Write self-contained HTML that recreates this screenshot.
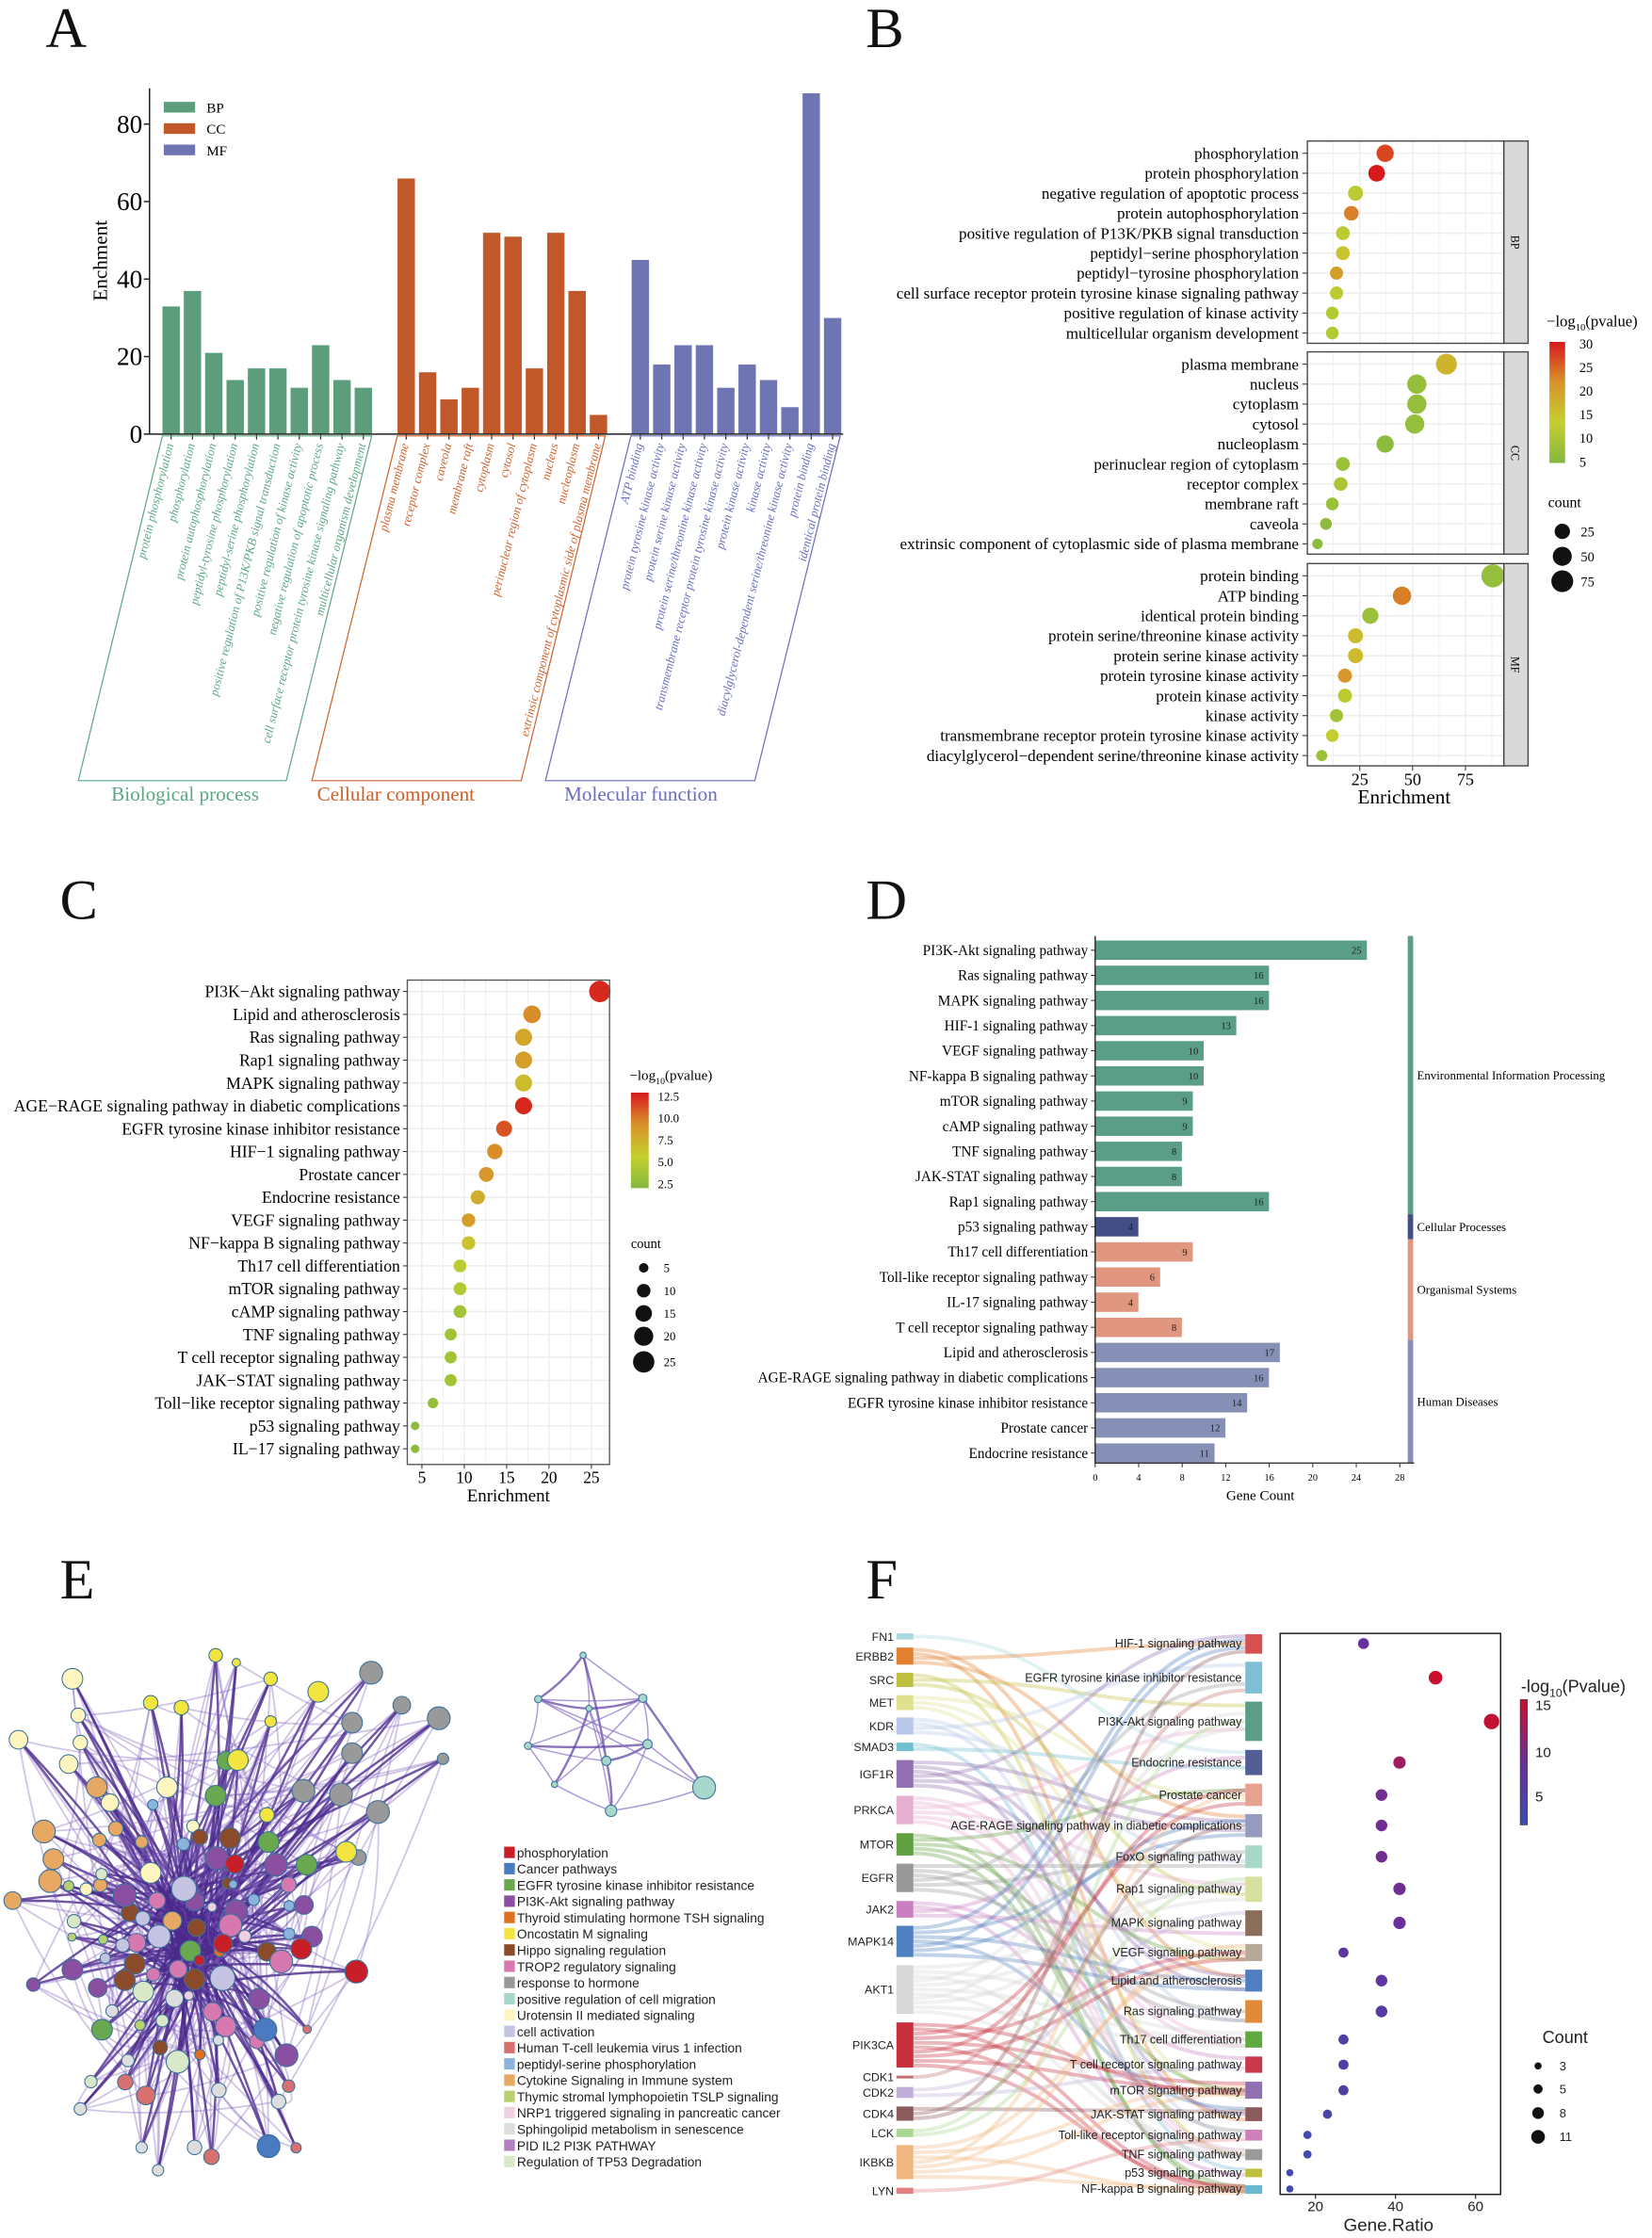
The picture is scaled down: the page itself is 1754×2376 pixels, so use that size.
<!DOCTYPE html>
<html><head><meta charset="utf-8"><style>
html,body{margin:0;padding:0;background:#fff;}
svg{display:block;}
</style></head><body>
<svg id="fig" xmlns="http://www.w3.org/2000/svg" width="1754" height="2376" viewBox="0 0 1160 1571" preserveAspectRatio="none">
<rect x="0" y="0" width="1160" height="1571" fill="#fff"/>
<g font-family="'Liberation Serif', serif" font-size="40" fill="#111">
<text x="32" y="33">A</text>
<text x="608" y="33">B</text>
<text x="42" y="645">C</text>
<text x="608" y="645">D</text>
<text x="42" y="1122">E</text>
<text x="608" y="1122">F</text>
</g>
</svg>
<script>
// ---------- Panel A data ----------
const aBPLabels=["protein phosphorylation","phosphorylation","protein autophosphorylation","peptidyl-tyrosine phosphorylation","peptidyl-serine phosphorylation","positive regulation of P13K/PKB signal transduction","positive regulation of kinase activity","negative regulation of apoptotic process","cell surface receptor protein tyrosine kinase signaling pathway","multicellular organism development"];
const aBPValues=[33,37,21,14,17,17,12,23,14,12];
const aCCLabels=["plasma membrane","receptor complex","caveola","membrane raft","cytoplasm","cytosol","perinuclear region of cytoplasm","nucleus","nucleoplasm","extrinsic component of cytoplasmic side of plasma membrane"];
const aCCValues=[66,16,9,12,52,51,17,52,37,5];
const aMFLabels=["ATP binding","protein tyrosine kinase activity","protein serine kinase activity","protein serine/threonine kinase activity","transmembrane receptor protein tyrosine kinase activity","protein kinase activity","kinase activity","diacylglycerol-dependent serine/threonine kinase activity","protein binding","identical protein binding"];
const aMFValues=[45,18,23,23,12,18,14,7,88,30];
const aYTicks=[0,20,40,60,80];
// ---------- Panel B data ----------
const bBPLabels=["phosphorylation","protein phosphorylation","negative regulation of apoptotic process","protein autophosphorylation","positive regulation of P13K/PKB signal transduction","peptidyl\u2212serine phosphorylation","peptidyl\u2212tyrosine phosphorylation","cell surface receptor protein tyrosine kinase signaling pathway","positive regulation of kinase activity","multicellular organism development"];
const bBPEnrich=[37,33,23,21,17,17,14,14,12,12];
const bBPLogP=[27,30,12,23,12,15,20,12,11,11];
const bCCLabels=["plasma membrane","nucleus","cytoplasm","cytosol","nucleoplasm","perinuclear region of cytoplasm","receptor complex","membrane raft","caveola","extrinsic component of cytoplasmic side of plasma membrane"];
const bCCEnrich=[66,52,52,51,37,17,16,12,9,5];
const bCCLogP=[17,7,7,7,6,8,10,8,6,6];
const bMFLabels=["protein binding","ATP binding","identical protein binding","protein serine/threonine kinase activity","protein serine kinase activity","protein tyrosine kinase activity","protein kinase activity","kinase activity","transmembrane receptor protein tyrosine kinase activity","diacylglycerol\u2212dependent serine/threonine kinase activity"];
const bMFEnrich=[88,45,30,23,23,18,18,14,12,7];
const bMFLogP=[7,23,8,16,16,21,12,9,13,8];
const bXTicks=[25,50,75];
// ---------- Panel C data ----------
const cLabels=["PI3K\u2212Akt signaling pathway","Lipid and atherosclerosis","Ras signaling pathway","Rap1 signaling pathway","MAPK signaling pathway","AGE\u2212RAGE signaling pathway in diabetic complications","EGFR tyrosine kinase inhibitor resistance","HIF\u22121 signaling pathway","Prostate cancer","Endocrine resistance","VEGF signaling pathway","NF\u2212kappa B signaling pathway","Th17 cell differentiation","mTOR signaling pathway","cAMP signaling pathway","TNF signaling pathway","T cell receptor signaling pathway","JAK\u2212STAT signaling pathway","Toll\u2212like receptor signaling pathway","p53 signaling pathway","IL\u221217 signaling pathway"];
const cEnrich=[26,18,17,17,17,17,14.7,13.6,12.6,11.6,10.5,10.5,9.5,9.5,9.5,8.4,8.4,8.4,6.3,4.2,4.2];
const cCount=[25,17,16,16,16,16,14,13,12,11,10,10,9,9,9,8,8,8,6,4,4];
const cLogP=[13,9.5,8,8.5,6.5,13,11.5,9.5,9,7.5,8.5,6,4.5,4,3,3,3,3,2,1.5,1.5];
const cXTicks=[5,10,15,20,25];
// ---------- Panel D data ----------
const dLabels=["PI3K-Akt signaling pathway","Ras signaling pathway","MAPK signaling pathway","HIF-1 signaling pathway","VEGF signaling pathway","NF-kappa B signaling pathway","mTOR signaling pathway","cAMP signaling pathway","TNF signaling pathway","JAK-STAT signaling pathway","Rap1 signaling pathway","p53 signaling pathway","Th17 cell differentiation","Toll-like receptor signaling pathway","IL-17 signaling pathway","T cell receptor signaling pathway","Lipid and atherosclerosis","AGE-RAGE signaling pathway in diabetic complications","EGFR tyrosine kinase inhibitor resistance","Prostate cancer","Endocrine resistance"];
const dCounts=[25,16,16,13,10,10,9,9,8,8,16,4,9,6,4,8,17,16,14,12,11];
const dGroup=[0,0,0,0,0,0,0,0,0,0,0,1,2,2,2,2,3,3,3,3,3];
const dGroupNames=["Environmental Information Processing","Cellular Processes","Organismal Systems","Human Diseases"];
const dXTicks=[0,4,8,12,16,20,24,28];
// ---------- Panel F data ----------
const fPathways=["HIF-1 signaling pathway","EGFR tyrosine kinase inhibitor resistance","PI3K-Akt signaling pathway","Endocrine resistance","Prostate cancer","AGE-RAGE signaling pathway in diabetic complications","FoxO signaling pathway","Rap1 signaling pathway","MAPK signaling pathway","VEGF signaling pathway","Lipid and atherosclerosis","Ras signaling pathway","Th17 cell differentiation","T cell receptor signaling pathway","mTOR signaling pathway","JAK-STAT signaling pathway","Toll-like receptor signaling pathway","TNF signaling pathway","p53 signaling pathway","NF-kappa B signaling pathway"];
const fRatio=[32,50,64,41,36.5,36.5,36.5,41,41,27,36.5,36.5,27,27,27,23,18,18,13.6,13.6];
const fLogP=[8,15,14.5,12,9,9,9,9,8.5,7,7,6,5,5,5,4,3,3,3,3];
const fCount=[7,11,14,9,8,8,8,9,9,6,8,8,6,6,6,5,4,4,3,3];
const fGenes=["FN1","ERBB2","SRC","MET","KDR","SMAD3","IGF1R","PRKCA","MTOR","EGFR","JAK2","MAPK14","AKT1","PIK3CA","CDK1","CDK2","CDK4","LCK","IKBKB","LYN"];
const fXTicks=[20,40,60];

const NS='http://www.w3.org/2000/svg';
const svg=document.getElementById('fig');
function mk(parent,tag,attrs,text){const e=document.createElementNS(NS,tag);for(const k in attrs)e.setAttribute(k,attrs[k]);if(text!=null)e.textContent=text;parent.appendChild(e);return e;}
const SERIF="'Liberation Serif', serif", SANS="'Liberation Sans', sans-serif";

// ================= Panel A =================
(function(){
const g=mk(svg,'g',{'font-family':SERIF});


const yA=v=>304.7-v*2.72;
const groups=[{v:aBPValues,l:aBPLabels,c:'#5c9e7c',tc:'#5aa882',x0:113.9,n:'bp'},{v:aCCValues,l:aCCLabels,c:'#c0582a',tc:'#d0602a',x0:279,n:'cc'},{v:aMFValues,l:aMFLabels,c:'#6f74b2',tc:'#6a6ec0',x0:443.4,n:'mf'}];
groups.forEach(G=>{G.v.forEach((v,i)=>{
 const x=G.x0+i*15;
 const r=mk(g,'rect',{x:x,y:yA(v),width:12.5,height:yA(0)-yA(v),fill:G.c,stroke:'#fff','stroke-width':0.3});
 
 
 const t=mk(g,'line',{x1:x+6.25,x2:x+6.25,y1:304.7,y2:308.5,stroke:'#222','stroke-width':0.8});
 
 
 const lx=x+8, ly=312;
 const tx=mk(g,'text',{x:lx,y:ly,'text-anchor':'end','font-size':8.6,'font-style':'italic',fill:G.tc,transform:`rotate(-76 ${lx} ${ly})`},G.l[i]);
 
 
});});
const ax=mk(g,'path',{d:'M105,62 V304.7 H592',fill:'none',stroke:'#222','stroke-width':1});


aYTicks.forEach(v=>{
 const l=mk(g,'line',{x1:101,x2:105,y1:yA(v),y2:yA(v),stroke:'#222'});
 
 
 const t=mk(g,'text',{x:100,y:yA(v)+6,'text-anchor':'end','font-size':18},String(v));
 
 
});
const yt=mk(g,'text',{x:75,y:183,'text-anchor':'middle','font-size':14,transform:'rotate(-90 75 183)'},'Enchment');


const leg=[['BP','#5c9e7c'],['CC','#c0582a'],['MF','#6f74b2']];
leg.forEach((L,i)=>{
 const r=mk(g,'rect',{x:115,y:71.5+i*15,width:22,height:7.5,fill:L[1]});
 
 
 const t=mk(g,'text',{x:145,y:79+i*15,'font-size':10},L[0]);
 
 
});
const br=[{p:'114,306 261,306 201,548 55,548',c:'#5aa882',tx:130,t:'Biological process',n:'bp'},{p:'279,306 425,306 366,548 219,548',c:'#d0602a',tx:278,t:'Cellular component',n:'cc'},{p:'443,306 590,306 530,548 383,548',c:'#6a6ec0',tx:450,t:'Molecular function',n:'mf'}];
br.forEach(B=>{
 const p=mk(g,'polygon',{points:B.p,fill:'none',stroke:B.c,'stroke-width':0.8});
 
 
 const t=mk(g,'text',{x:B.tx,y:562,'text-anchor':'middle','font-size':14,fill:B.c},B.t);
 
 
});
})();

// color helpers
function lerp(a,b,t){return a+(b-a)*t;}
function hex(c){return [parseInt(c.substr(1,2),16),parseInt(c.substr(3,2),16),parseInt(c.substr(5,2),16)];}
function grad(stops,t){t=Math.max(0,Math.min(1,t));const n=stops.length-1;const i=Math.min(n-1,Math.floor(t*n));const f=t*n-i;const a=hex(stops[i]),b=hex(stops[i+1]);return `rgb(${Math.round(lerp(a[0],b[0],f))},${Math.round(lerp(a[1],b[1],f))},${Math.round(lerp(a[2],b[2],f))})`;}
const GYR=['#84b83f','#c5cf2e','#d9922a','#d7191c'];

// ================= Panel B =================
(function(){
const g=mk(svg,'g',{'font-family':SERIF});


const xB=v=>917.7+v*1.484;
const facets=[{l:bBPLabels,e:bBPEnrich,p:bBPLogP,top:99,n:'BP'},{l:bCCLabels,e:bCCEnrich,p:bCCLogP,top:247,n:'CC'},{l:bMFLabels,e:bMFEnrich,p:bMFLogP,top:395.6,n:'MF'}];
facets.forEach(F=>{
 const bg=mk(g,'rect',{x:918,y:F.top,width:138,height:142,fill:'#fff'});
 
 
 for(let v=12.5;v<93;v+=12.5){
  const l=mk(g,'line',{x1:xB(v),x2:xB(v),y1:F.top,y2:F.top+142,stroke:'#ececec','stroke-width':v%25===0?0.9:0.5});
  
  
 }
 F.l.forEach((lab,i)=>{
  const y=F.top+8.6+i*14.02;
  const gl=mk(g,'line',{x1:918,x2:1056,y1:y,y2:y,stroke:'#ececec','stroke-width':0.9});
  
  
  const t=mk(g,'text',{x:912,y:y+3.8,'text-anchor':'end','font-size':11.3},lab);
  
  
  const tk=mk(g,'line',{x1:914.5,x2:918,y1:y,y2:y,stroke:'#333','stroke-width':0.7});
  
  
 });
 F.e.forEach((v,i)=>{
  const y=F.top+8.6+i*14.02;
  const c=mk(g,'circle',{cx:xB(v),cy:y,r:2.3+Math.sqrt(v)*0.62,fill:grad(GYR,(F.p[i]-5)/25)});
  
  
 });
 const bd=mk(g,'rect',{x:918,y:F.top,width:138,height:142,fill:'none',stroke:'#444','stroke-width':0.9});
 
 
 const st=mk(g,'rect',{x:1056,y:F.top,width:17,height:142,fill:'#d9d9d9',stroke:'#444','stroke-width':0.9});
 
 
 const sx=1061, sy=F.top+71;
 const stt=mk(g,'text',{x:sx,y:sy,'text-anchor':'middle','font-size':8,transform:`rotate(90 ${sx} ${sy})`},F.n);
 
 
});
bXTicks.forEach(v=>{
 const l=mk(g,'line',{x1:xB(v),x2:xB(v),y1:537.6,y2:541,stroke:'#333','stroke-width':0.7});
 
 
 const t=mk(g,'text',{x:xB(v),y:551,'text-anchor':'middle','font-size':12},String(v));
 
 
});
const xt=mk(g,'text',{x:986,y:564,'text-anchor':'middle','font-size':14},'Enrichment');


const defs=mk(svg,'defs',{});
const lg=mk(defs,'linearGradient',{id:'gB',x1:0,y1:1,x2:0,y2:0});
GYR.forEach((c,i)=>mk(lg,'stop',{offset:i/3,'stop-color':c}));
const lt=mk(g,'text',{x:1086,y:229,'font-size':11},'\u2212log');


mk(lt,'tspan',{'font-size':7,dy:3},'10');
mk(lt,'tspan',{dy:-3},'(pvalue)');
const cb=mk(g,'rect',{x:1088,y:240,width:11,height:85,fill:'url(#gB)'});


[5,10,15,20,25,30].forEach(v=>{
 const y=324-(v-5)/25*83;
 const t=mk(g,'text',{x:1109,y:y+3.5,'font-size':9.5},String(v));
 
 
});
const ct=mk(g,'text',{x:1087,y:356,'font-size':10.5},'count');


[25,50,75].forEach((v,i)=>{
 const y=373+i*17.5;
 const c=mk(g,'circle',{cx:1097,cy:y,r:2.3+Math.sqrt(v)*0.62,fill:'#111'});
 
 
 const t=mk(g,'text',{x:1110,y:y+3.5,'font-size':9.5},String(v));
 
 
});
})();

// ================= Panel C =================
(function(){
const g=mk(svg,'g',{'font-family':SERIF});


const xC=v=>266.5+v*5.95;
const yC=i=>696+i*16.05;
for(let v=2.5;v<=27.5;v+=2.5){
 const x=xC(v); if(x<287||x>427)continue;
 const l=mk(g,'line',{x1:x,x2:x,y1:688,y2:1028,stroke:'#ececec','stroke-width':v%5===0?0.9:0.5});
 
 
}
cLabels.forEach((lab,i)=>{
 const y=yC(i);
 const gl=mk(g,'line',{x1:286,x2:428,y1:y,y2:y,stroke:'#ececec','stroke-width':0.9});
 
 
 const t=mk(g,'text',{x:281,y:y+4,'text-anchor':'end','font-size':11.7},lab);
 
 
 const tk=mk(g,'line',{x1:283,x2:286,y1:y,y2:y,stroke:'#333','stroke-width':0.7});
 
 
});
cEnrich.forEach((v,i)=>{
 const c=mk(g,'circle',{cx:xC(v),cy:yC(i),r:Math.sqrt(cCount[i])*1.5,fill:grad(GYR,(cLogP[i]-1)/12.5)});
 
 
});
const bd=mk(g,'rect',{x:286,y:688,width:142,height:340,fill:'none',stroke:'#555','stroke-width':0.9});


cXTicks.forEach(v=>{
 const l=mk(g,'line',{x1:xC(v),x2:xC(v),y1:1028,y2:1031,stroke:'#333','stroke-width':0.7});
 
 
 const t=mk(g,'text',{x:xC(v),y:1041,'text-anchor':'middle','font-size':11.5},String(v));
 
 
});
const xt=mk(g,'text',{x:357,y:1054,'text-anchor':'middle','font-size':12.5},'Enrichment');


const lt=mk(g,'text',{x:442,y:758,'font-size':10},'\u2212log');


mk(lt,'tspan',{'font-size':6.5,dy:3},'10');
mk(lt,'tspan',{dy:-3},'(pvalue)');
const cb=mk(g,'rect',{x:443,y:767,width:12.5,height:67,fill:'url(#gB)'});


[2.5,5,7.5,10,12.5].forEach(v=>{
 const y=831-(v-2.5)/10*61.5;
 const t=mk(g,'text',{x:462,y:y+3,'font-size':8.5},v.toFixed(1));
 
 
});
const ct=mk(g,'text',{x:443,y:876,'font-size':9.5},'count');


[5,10,15,20,25].forEach((v,i)=>{
 const y=[890,906,922,938,956][i];
 const c=mk(g,'circle',{cx:452,cy:y,r:Math.sqrt(v)*1.5,fill:'#111'});
 
 
 const t=mk(g,'text',{x:466,y:y+3,'font-size':8.5},String(v));
 
 
});
})();

// ================= Panel D =================
(function(){
const g=mk(svg,'g',{'font-family':SERIF});


const xD=v=>769+v*7.64;
const yD=i=>667+i*17.65;
const cols=['#5a9e87','#434e86','#e0967f','#8690b6'];
dCounts.forEach((v,i)=>{
 const y=yD(i);
 const r=mk(g,'rect',{x:769,y:y-7,width:xD(v)-769,height:14,fill:cols[dGroup[i]],stroke:'#fff','stroke-width':0.4});
 
 
 const t=mk(g,'text',{x:xD(v)-4,y:y+2.5,'text-anchor':'end','font-size':7,fill:'#222'},String(v));
 
 
 const l=mk(g,'text',{x:764,y:y+3.4,'text-anchor':'end','font-size':10.1},dLabels[i]);
 
 
 const tk=mk(g,'line',{x1:766,x2:769,y1:y,y2:y,stroke:'#333','stroke-width':0.7});
 
 
});
dGroupNames.forEach((nm,gi)=>{
 const idx=dGroup.map((d,i)=>d===gi?i:-1).filter(i=>i>=0);
 const y0=yD(idx[0])-(gi===0?10:8.8), y1=yD(idx[idx.length-1])+(gi===3?7:8.8);
 const r=mk(g,'rect',{x:988.5,y:y0,width:3.8,height:y1-y0,fill:cols[gi]});
 
 
 const t=mk(g,'text',{x:995,y:(y0+y1)/2+3,'font-size':8.5},nm);
 
 
});
const ax=mk(g,'path',{d:'M769,657 V1027 H993',fill:'none',stroke:'#222','stroke-width':0.9});


dXTicks.forEach(v=>{
 const l=mk(g,'line',{x1:xD(v),x2:xD(v),y1:1027,y2:1030,stroke:'#333','stroke-width':0.7});
 
 
 const t=mk(g,'text',{x:xD(v),y:1039.5,'text-anchor':'middle','font-size':6.8},String(v));
 
 
});
const xt=mk(g,'text',{x:885,y:1053,'text-anchor':'middle','font-size':10},'Gene Count');


})();

// ================= Panel E (network) =================
(function(){
const g=mk(svg,'g',{'font-family':SANS});


const C={cream:'#fff6bf',yel:'#f3e53f',grn:'#6aa84f',gry:'#999999',tan:'#e6a862',brn:'#8b4a2a',red:'#c81e28',pur:'#8a4fa0',pnk:'#d878b0',lav:'#c4c4e2',lbl:'#8ab4dc',blu:'#4a7abf',sal:'#d87070',lgr:'#dddddd',pgr:'#d8e8c8',org:'#e07020',ppk:'#f0d0e0',tsl:'#b8d070'};
const raw=[
['cream',137,190,20],['cream',148,280,14],['cream',152,347,14],['cream',35,340,18],['cream',130,400,18],['cream',208,495,17],['cream',316,457,20],['cream',285,668,20],['cream',163,708,12],['cream',365,553,12],
['yel',408,132,13],['yel',447,150,8],['yel',512,190,13],['yel',602,222,20],['yel',285,249,14],['yel',343,261,14],['yel',512,295,11],['grn',428,392,18],['yel',450,390,20],['yel',505,525,14],['gry',678,630,15],['yel',655,616,20],
['grn',408,478,20],['grn',508,592,20],['grn',580,648,20],['grn',360,860,20],['grn',193,1054,20],['tsl',136,826,8],['tsl',195,832,9],['tsl',130,700,10],['tsl',265,1043,10],
['gry',702,175,22],['gry',760,255,17],['gry',830,287,22],['gry',666,298,20],['gry',666,373,20],['gry',574,466,22],['gry',645,475,22],['gry',715,518,22],['gry',838,387,11],
['tan',183,457,20],['tan',83,566,22],['tan',101,634,20],['tan',95,688,22],['tan',24,736,17],['tan',188,587,13],['tan',219,559,14],['tan',268,592,12],['tan',190,698,13],['tan',326,786,18],
['brn',378,580,15],['brn',435,582,20],['brn',431,693,11],['brn',246,766,17],['brn',372,803,17],['brn',255,892,20],['brn',236,932,20],['brn',368,930,20],['brn',505,862,18],['brn',303,1098,14],
['pur',410,632,22],['pur',522,648,22],['pur',236,723,22],['pur',368,738,18],['pur',575,747,18],['pur',447,762,22],['pur',590,825,20],['pur',490,978,20],['pur',542,1117,22],['pur',137,906,20],['pur',185,951,18],['pur',63,943,13],
['pnk',297,736,16],['pnk',436,797,22],['pnk',258,840,18],['pnk',290,918,13],['pnk',337,905,17],['pnk',532,886,22],['pnk',546,697,15],['pnk',402,1010,18],['pnk',427,1046,20],['pnk',486,1083,14],
['lav',348,707,24],['lav',301,824,22],['lav',421,927,24],['lav',270,780,14],['lav',232,846,13],['lav',199,878,10],
['lbl',289,500,10],['lbl',347,597,12],['lbl',480,734,11],['lbl',547,749,10],['lbl',547,818,11],['lbl',441,696,8],
['blu',502,1054,22],['blu',508,1341,22],
['sal',237,1183,15],['sal',276,1216,18],['sal',400,1367,15],['sal',546,1193,12],['sal',560,1345,10],['sal',581,1053,8],
['lgr',330,977,17],['lgr',212,1008,12],['lgr',242,1130,12],['lgr',414,1203,14],['lgr',527,1231,14],['lgr',152,1249,12],['lgr',368,1344,14],['lgr',268,1344,11],['lgr',299,1400,11],['lgr',413,1080,10],
['pgr',336,1133,22],['pgr',271,960,20],['pgr',172,1182,12],['pgr',140,787,13],['pgr',192,671,11],['pgr',307,1032,12],
['org',378,1115,10],['org',415,862,10],
['red',444,646,18],['red',422,842,18],['red',570,855,20],['red',674,911,22],['red',377,883,10],
['ppk',463,824,12],['ppk',401,752,9],['ppk',357,970,9]];
const nodes=raw.map(r=>({c:C[r[0]],x:r[1]/2.694,y:1124.3+r[2]/3.508,r:r[3]/2.75}));
const eg=mk(g,'g',{fill:'none'});


const N=nodes.length;
const hubs=[[128,1360],[135,1350],[122,1375],[140,1380],[118,1345],[150,1365],[132,1395],[115,1330]];
nodes.forEach((n,i)=>{
 [0,3].forEach(o=>{
 const h=hubs[(i+o)%hubs.length];
 const e=mk(eg,'path',{d:`M${n.x},${n.y} Q${(n.x+h[0])/2+6},${(n.y+h[1])/2-6} ${h[0]},${h[1]}`,stroke:'#4b2a8c','stroke-opacity':0.8,'stroke-width':1.6});
 
 
 });
 [7,19].forEach((k,kk)=>{
  const m=nodes[(i*k+5)%N];
  const e2=mk(eg,'path',{d:`M${n.x},${n.y} Q${(n.x+m.x)/2+(kk-0.5)*20},${(n.y+m.y)/2+10} ${m.x},${m.y}`,stroke:'#7a5ab8','stroke-opacity':0.35,'stroke-width':1.2});
  
  
 });
});
nodes.forEach((n,i)=>{
 const c=mk(g,'circle',{cx:n.x,cy:n.y,r:n.r,fill:n.c,stroke:'#3a6f9a','stroke-width':0.7});
 
 
});
const sm=[[1103,132,6],[1018,240,7],[1216,238,8],[1114,263,6],[999,355,7],[1225,351,9],[1147,392,9],[1049,450,6],[1332,458,22],[1156,515,11]].map(r=>({x:r[0]/2.694,y:1124.3+r[1]/3.508,r:r[2]/2.75}));
const smE=[[0,1],[0,2],[0,3],[0,6],[1,2],[1,4],[1,3],[1,5],[2,5],[2,3],[2,4],[2,7],[2,8],[3,6],[3,9],[4,5],[4,7],[4,6],[5,6],[5,9],[5,8],[6,9],[7,9],[8,9],[3,7],[1,8]];
smE.forEach((e,i)=>{
 const a=sm[e[0]],b=sm[e[1]];
 const p=mk(g,'path',{d:`M${a.x},${a.y} Q${(a.x+b.x)/2+3},${(a.y+b.y)/2+3} ${b.x},${b.y}`,fill:'none',stroke:i%3===0?'#5a3aa0':'#8a70c8','stroke-opacity':0.7,'stroke-width':i%3===0?1.6:1});
 
 
});
sm.forEach(n=>{
 const c=mk(g,'circle',{cx:n.x,cy:n.y,r:n.r,fill:'#a8d8cc',stroke:'#3a6f9a','stroke-width':0.7});
 
 
});
const legItems=[['phosphorylation','#c81e28'],['Cancer pathways','#4a7abf'],['EGFR tyrosine kinase inhibitor resistance','#6aa84f'],['PI3K-Akt signaling pathway','#8a4fa0'],['Thyroid stimulating hormone TSH signaling','#e07020'],['Oncostatin M signaling','#f3e53f'],['Hippo signaling regulation','#8b4a2a'],['TROP2 regulatory signaling','#d878b0'],['response to hormone','#999999'],['positive regulation of cell migration','#a8d8cc'],['Urotensin II mediated signaling','#fff6bf'],['cell activation','#c4c4e2'],['Human T-cell leukemia virus 1 infection','#d87070'],['peptidyl-serine phosphorylation','#8ab4dc'],['Cytokine Signaling in Immune system','#e6a862'],['Thymic stromal lymphopoietin TSLP signaling','#b8d070'],['NRP1 triggered signaling in pancreatic cancer','#f0d0e0'],['Sphingolipid metabolism in senescence','#dddddd'],['PID IL2 PI3K PATHWAY','#b080c0'],['Regulation of TP53 Degradation','#d8e8c8']];
legItems.forEach((L,i)=>{
 const y=1300.5+i*11.42;
 const r=mk(g,'rect',{x:354,y:y-4.2,width:7.5,height:8,fill:L[1]});
 
 
 const t=mk(g,'text',{x:363,y:y+3.3,'font-size':9.1,fill:'#222'},L[0]);
 
 
});
})();

// ================= Panel F =================
(function(){
const g=mk(svg,'g',{'font-family':SANS});


const fx=zx=>(900+zx/1.836)/1.512, fy=zy=>(1700+zy/2.32)/1.512;
const pRanges=[[80,128],[148,226],[246,343],[365,427],[448,503],[523,580],[600,656],[677,739],[760,823],[843,885],[906,960],[981,1037],[1058,1098],[1120,1160],[1182,1224],[1245,1279],[1300,1327],[1348,1375],[1396,1417],[1437,1458]];
const pCols=['#d65050','#7fbfd6','#5a9e87','#525e94','#e8a090','#959cc0','#a8d8c8','#d8e0a0','#8a6e5a','#b8a898','#4f7fc0','#e08a3a','#60a840','#c8394a','#9070b0','#8b5a5a','#d080b8','#999999','#c0c040','#6ab8d0'];
const gRanges=[[78,93],[113,155],[175,210],[230,267],[285,327],[347,368],[390,458],[478,548],[570,625],[645,715],[737,778],[798,875],[895,1015],[1036,1147],[1167,1174],[1195,1222],[1243,1278],[1298,1318],[1338,1422],[1443,1458]];
const gCols=['#a8d8e0','#e08030','#c0c040','#e0e090','#b8c8e8','#70c0d0','#9070b0','#e8b0d0','#60a040','#999999','#c880c0','#4f80c0','#d8d8d8','#c83040','#c07070','#c0b0d8','#8b5a5a','#a8d890','#f0b880','#e08080'];
const xL=fx(128), xR=fx(775);
const fl=mk(g,'g',{fill:'none'});


gRanges.forEach((gr,gi)=>{
 const y0=fy(gr[0]),y1=fy(gr[1]);const h=y1-y0;
 const nf=Math.max(1,Math.round(h/3.2));
 for(let k=0;k<nf;k++){
  const ya=y0+(k+0.5)*h/nf;
  const pi=(gi*7+k*5+3)%20;
  const pr=pRanges[pi];const yb=fy(pr[0])+((k*3+gi)%5+0.5)/5*(fy(pr[1])-fy(pr[0]));
  const p=mk(fl,'path',{d:`M${xL},${ya} C${(xL+xR)/2},${ya} ${(xL+xR)/2},${yb} ${xR},${yb}`,stroke:gCols[gi],'stroke-opacity':0.35,'stroke-width':2.6});
  
  
 }
});
gRanges.forEach((gr,gi)=>{
 const r=mk(g,'rect',{x:fx(95),y:fy(gr[0]),width:fx(128)-fx(95),height:fy(gr[1])-fy(gr[0]),fill:gCols[gi]});
 
 
 const t=mk(g,'text',{x:fx(90),y:(fy(gr[0])+fy(gr[1]))/2+3,'text-anchor':'end','font-size':8.2,fill:'#222'},fGenes[gi]);
 
 
});
const rowY=[103,187,295,396,476,551,628,707,791,864,933,1009,1078,1140,1203,1262,1313,1361,1406,1446].map(fy);
pRanges.forEach((pr,pi)=>{
 const r=mk(g,'rect',{x:fx(775),y:fy(pr[0]),width:fx(808)-fx(775),height:fy(pr[1])-fy(pr[0]),fill:pCols[pi]});
 
 
 const t=mk(g,'text',{x:fx(768),y:rowY[pi]+2.8,'text-anchor':'end','font-size':8.3,fill:'#222'},fPathways[pi]);
 
 
});
const box=mk(g,'rect',{x:898.9,y:1146.6,width:154.8,height:393.8,fill:'#fff',stroke:'#222','stroke-width':1});


const xF=v=>867.5+v*2.81;
const BPR=['#3a4fb0','#6a2f9a','#c8102e'];
fRatio.forEach((v,i)=>{
 const c=mk(g,'circle',{cx:xF(v),cy:rowY[i],r:Math.sqrt(fCount[i])*1.45,fill:grad(BPR,(fLogP[i]-2)/13)});
 
 
});
fXTicks.forEach(v=>{
 const l=mk(g,'line',{x1:xF(v),x2:xF(v),y1:1540.4,y2:1543.5,stroke:'#222','stroke-width':0.8});
 
 
 const t=mk(g,'text',{x:xF(v),y:1552,'text-anchor':'middle','font-size':10,fill:'#222'},String(v));
 
 
});
const xt=mk(g,'text',{x:975,y:1566,'text-anchor':'middle','font-size':12.5,fill:'#222'},'Gene.Ratio');


const defs=mk(svg,'defs',{});
const lg=mk(defs,'linearGradient',{id:'gF',x1:0,y1:1,x2:0,y2:0});
BPR.forEach((c,i)=>mk(lg,'stop',{offset:i/2,'stop-color':c}));
const lt=mk(g,'text',{x:1068,y:1188,'font-size':12,fill:'#222'},'-log');


mk(lt,'tspan',{'font-size':8,dy:3},'10');
mk(lt,'tspan',{dy:-3},'(Pvalue)');
const cb=mk(g,'rect',{x:1067.5,y:1193,width:5,height:88,fill:'url(#gF)',stroke:'#444','stroke-width':0.5});


[[15,1197],[10,1230],[5,1261]].forEach(L=>{
 const t=mk(g,'text',{x:1078,y:L[1]+3.5,'font-size':10,fill:'#222'},String(L[0]));
 
 
});
const ct=mk(g,'text',{x:1083,y:1434,'font-size':12,fill:'#222'},'Count');


[[3,1450.2],[5,1466.4],[8,1483.3],[11,1500]].forEach(L=>{
 const c=mk(g,'circle',{cx:1080,cy:L[1],r:Math.sqrt(L[0])*1.45,fill:'#111'});
 
 
 const t=mk(g,'text',{x:1095,y:L[1]+3,'font-size':8.5,fill:'#222'},String(L[0]));
 
 
});
})();
</script>
</body></html>
